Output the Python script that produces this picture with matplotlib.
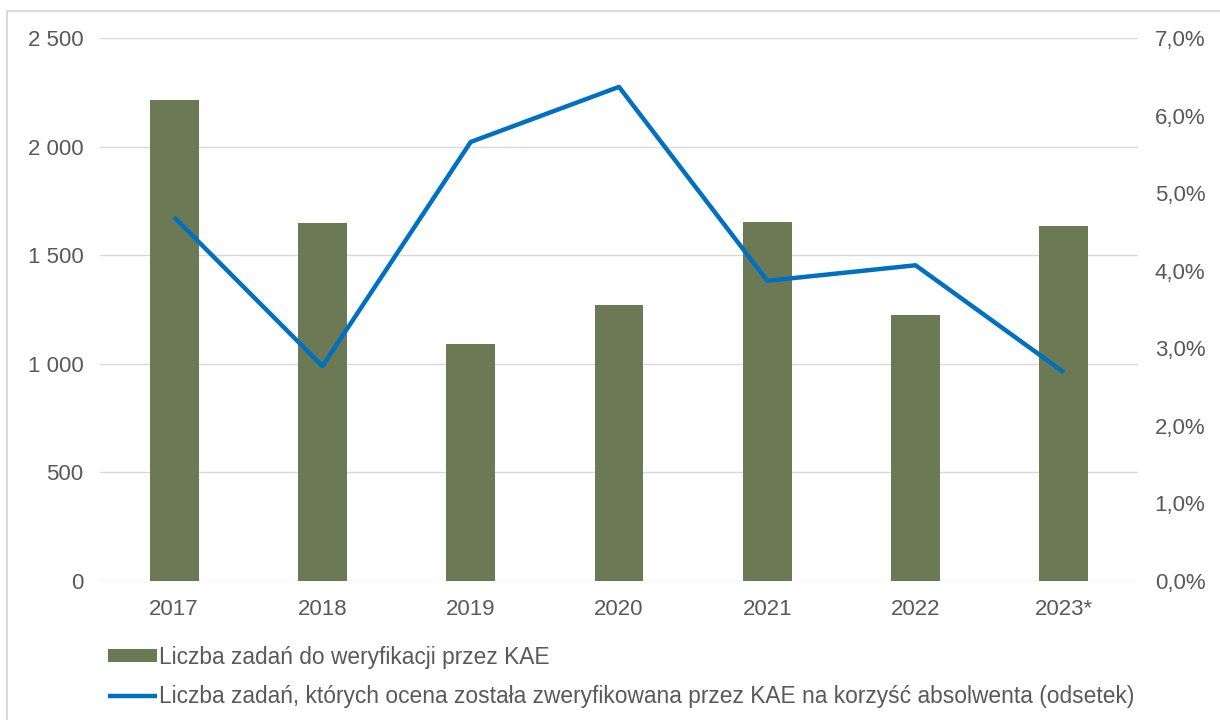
import numpy as np
import matplotlib.pyplot as plt
from matplotlib.patches import Rectangle
from matplotlib.ticker import FuncFormatter

plt.rcParams['font.family'] = ['Liberation Sans', 'DejaVu Sans']

years = ['2017', '2018', '2019', '2020', '2021', '2022', '2023*']
tasks = [2214, 1648, 1091, 1271, 1653, 1225, 1634]  # liczba zadań
share = [4.69, 2.77, 5.66, 6.37, 3.87, 4.07, 2.69]  # odsetek, %

bar_label = 'Liczba zadań do weryfikacji przez KAE'
line_label = 'Liczba zadań, których ocena została zweryfikowana przez KAE na korzyść absolwenta (odsetek)'

txt = '#595959'
fs = 16

fig = plt.figure(figsize=(12.2, 7.2), dpi=100)
ax = fig.add_axes([100/1220, 1 - 581/720, 1038/1220, 543/720])
ax2 = ax.twinx()

x = np.arange(len(years))
b = ax.bar(x, tasks, width=0.33, color='#6B7A55', zorder=3, label=bar_label)
l, = ax2.plot(x, share, color='#0070C0', lw=3.2, solid_capstyle='butt', label=line_label)

ax.set_xlim(-0.5, len(years) - 0.5)
ax.set_ylim(0, 2500)
ax.set_yticks(np.arange(0, 2501, 500))
ax.yaxis.set_major_formatter(FuncFormatter(lambda v, p: f'{int(v):,}'.replace(',', ' ')))
ax2.set_ylim(0, 7)
ax2.set_yticks(np.arange(0, 7.1, 1))
ax2.yaxis.set_major_formatter(FuncFormatter(lambda v, p: f'{v:.1f}%'.replace('.', ',')))

ax.set_xticks(x)
ax.set_xticklabels(years)
ax.grid(axis='y', color='#D9D9D9', lw=1, zorder=0)
for a in (ax, ax2):
    for s in a.spines.values():
        s.set_visible(False)
    a.tick_params(length=0, labelsize=fs, colors=txt, pad=13)
ax.tick_params(axis='y', pad=12)
ax2.tick_params(axis='y', pad=12)

fig.legend(handles=[b, l], labels=[bar_label, line_label], loc='lower left',
           bbox_to_anchor=(108/1220, 12/720), frameon=False, fontsize=16.4,
           labelcolor=txt, handlelength=2.15, handleheight=0.55, handletextpad=0.1,
           labelspacing=0.72, borderaxespad=0, borderpad=0)

fig.patches.append(Rectangle((7/1220, -0.1), 1.1, 1 - 11/720 + 0.1, transform=fig.transFigure,
                             fill=False, edgecolor='#D9D9D9', lw=1.5))

fig.savefig('out.png', dpi=100)
